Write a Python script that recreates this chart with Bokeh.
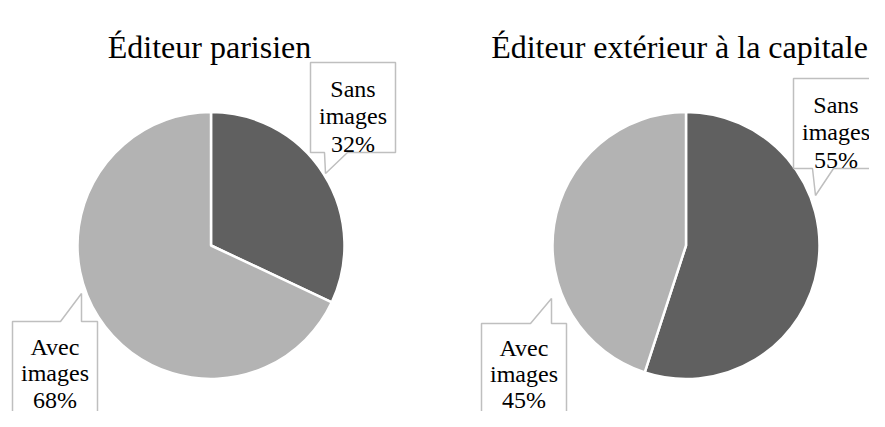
import numpy as np
from bokeh.plotting import figure
from bokeh.models import Range1d
from bokeh.core.properties import value
from bokeh.embed import file_html
from bokeh.resources import INLINE

# ---- data ----
titles = ["Éditeur parisien", "Éditeur extérieur à la capitale"]
categories = ["Sans images", "Avec images"]
paris_values = [32, 68]
exterieur_values = [55, 45]
colors = ["#606060", "#b3b3b3"]

# ---- layout (pixel coords from the top-left; y measured downwards) ----
H = 427
PW, PH = 869, 411
def Y(py):
    return H - py

p = figure(width=PW, height=PH, output_backend="svg", toolbar_location=None,
           x_range=Range1d(0, PW), y_range=Range1d(Y(PH), Y(0)),
           x_axis_location=None, y_axis_location=None, min_border=0)
p.grid.visible = False
p.outline_line_color = None
p.background_fill_color = "white"
p.border_fill_color = "white"

FONT = value("Liberation Serif")

pies = [
    dict(cx=210.5, cy=245, r=133.5, vals=paris_values, title=titles[0], tx=209),
    dict(cx=685.5, cy=245, r=133.5, vals=exterieur_values, title=titles[1], tx=679),
]

for pie in pies:
    vals = np.array(pie["vals"], dtype=float)
    frac = vals / vals.sum()
    cum = np.concatenate([[0], np.cumsum(frac)])
    angles = np.pi / 2 - cum * 2 * np.pi
    for i in range(len(vals)):
        p.wedge(x=pie["cx"], y=Y(pie["cy"]), radius=pie["r"],
                start_angle=angles[i + 1], end_angle=angles[i],
                fill_color=colors[i], line_color="white", line_width=2.5)
    p.text(x=[pie["tx"]], y=[Y(46)], text=[pie["title"]], text_font=FONT,
           text_font_size="32px", text_align="center", text_baseline="alphabetic",
           text_color="black")

# ---- callouts ----
def lines_for(cat, v):
    w = cat.split()
    return [w[0], w[1], f"{v}%"]

callouts = [
    dict(box=(310, 62, 395, 152), side="bottom", legs=(324, 347), tip=(325, 173),
         lines=lines_for(categories[0], paris_values[0]), base=88, step=27.5),
    dict(box=(12, 321, 97, 430), side="top", legs=(60, 81), tip=(81, 293),
         lines=lines_for(categories[1], paris_values[1]), base=346, step=26.5),
    dict(box=(793, 78, 878, 168), side="bottom", legs=(812, 833), tip=(815, 195),
         lines=lines_for(categories[0], exterieur_values[0]), base=104, step=27.5),
    dict(box=(481, 323, 566, 440), side="top", legs=(530, 551), tip=(551, 298),
         lines=lines_for(categories[1], exterieur_values[1]), base=347, step=26.0),
]

for c in callouts:
    l, t, r, b = c["box"]
    a, bb = c["legs"]
    tx, ty = c["tip"]
    if c["side"] == "bottom":
        pts = [(l, t), (r, t), (r, b), (bb, b), (tx, ty), (a, b), (l, b)]
    else:
        pts = [(l, t), (a, t), (tx, ty), (bb, t), (r, t), (r, b), (l, b)]
    xs = [q[0] for q in pts]
    ys = [Y(q[1]) for q in pts]
    p.patch(xs, ys, fill_color="white", line_color="#bfbfbf", line_width=1.5)
    cxm = (l + r) / 2
    for k, line in enumerate(c["lines"]):
        p.text(x=[cxm], y=[Y(c["base"] + k * c["step"])], text=[line], text_font=FONT,
               text_font_size="24px", text_align="center", text_baseline="alphabetic",
               text_color="black")

open("out.html", "w").write(file_html(p, INLINE))
